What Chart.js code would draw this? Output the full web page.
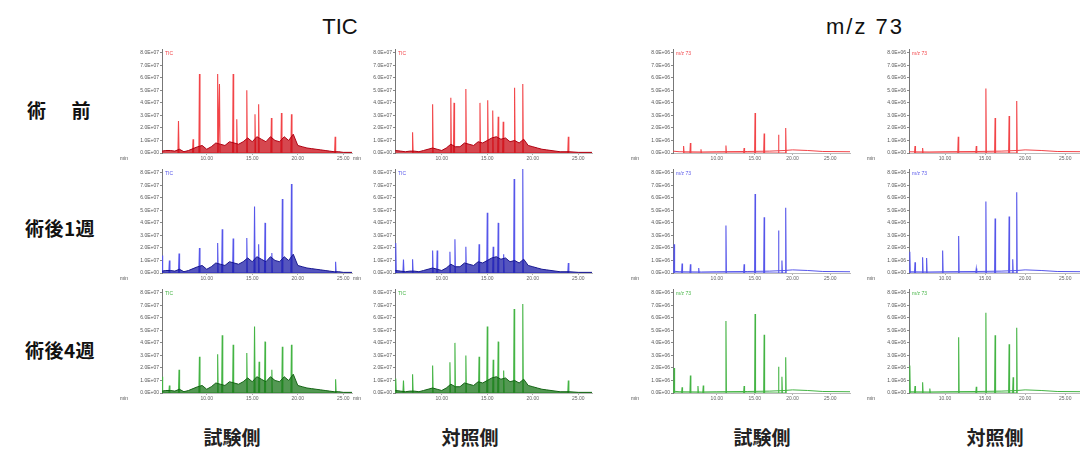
<!DOCTYPE html>
<html lang="ja">
<head>
<meta charset="utf-8">
<title>TIC / m/z 73</title>
<script src="https://cdn.jsdelivr.net/npm/chart.js@4.4.0/dist/chart.umd.min.js"></script>
<style>
body { margin: 0; background: #fff; }
#page { position: relative; width: 1080px; height: 452px; overflow: hidden; font-family: "Liberation Sans", Arial, sans-serif; }
.panel { position: absolute; }
.txt { position: absolute; white-space: nowrap; transform: translateX(-50%); line-height: 1; color: #111; }
.head { font-size: 22px; }
.rowlab { font-family: "Noto Sans CJK JP"; font-weight: bold; font-size: 19px; letter-spacing: 0.5px; }
.side { font-family: "Noto Sans CJK JP"; font-weight: bold; font-size: 19px; color: #222; }
</style>
</head>
<body>
<div id="page">
  <div class="txt head" style="left:340px; top:16px;">TIC</div>
  <div class="txt head" style="left:865px; top:16px; letter-spacing:2px;">m/z 73</div>

  <div class="txt rowlab" style="left:59px; top:100px; word-spacing:20px;">術 前</div>
  <div class="txt rowlab" style="left:60px; top:218px;">術後1週</div>
  <div class="txt rowlab" style="left:60px; top:340px;">術後4週</div>

  <div class="txt side" style="left:232px; top:427px;">試験側</div>
  <div class="txt side" style="left:470px; top:427px;">対照側</div>
  <div class="txt side" style="left:762px; top:427px;">試験側</div>
  <div class="txt side" style="left:995px; top:427px;">対照側</div>
</div>

<script>
// ---- data (retention time in min, intensity: TIC x1E+07, m/z 73 x1E+06) ----
const xTicks = [10, 15, 20, 25];
const yTicks = [0, 1, 2, 3, 4, 5, 6, 7, 8];

// TIC, 試験側
const ticPreTestTimes   = [6.9, 8.5, 9.2, 11.2, 11.4, 12.9, 13.3, 14.4, 15.3, 15.7, 17.1, 18.2, 19.3, 24.1];
const ticPreTestHeights = [2.55, 1.1, 6.3, 6.3, 5.5, 6.3, 2.7, 5.0, 3.1, 3.9, 2.8, 3.2, 3.1, 1.3];
const ticW1TestTimes    = [5.1, 5.9, 6.96, 9.2, 11.2, 11.7, 12.9, 14.4, 15.25, 15.7, 16.4, 17.15, 18.3, 19.3, 24.15];
const ticW1TestHeights  = [1.4, 1.0, 1.55, 2.0, 2.4, 3.5, 2.75, 2.8, 5.3, 2.3, 4.0, 1.6, 5.9, 7.1, 0.9];
const ticW4TestTimes    = [5.1, 5.9, 6.96, 9.2, 11.2, 11.7, 12.9, 14.4, 15.25, 15.75, 16.4, 17.15, 18.3, 19.3, 24.15];
const ticW4TestHeights  = [1.3, 0.6, 1.85, 2.9, 3.1, 4.6, 3.85, 3.2, 5.3, 2.5, 4.1, 1.85, 3.7, 3.85, 1.1];

// TIC, 対照側
const ticPreCtrlTimes   = [6.8, 9.0, 11.0, 11.35, 12.65, 14.2, 15.05, 15.6, 16.2, 16.75, 18.0, 18.9, 23.9];
const ticPreCtrlHeights = [1.66, 3.9, 4.4, 4.0, 5.1, 4.0, 4.2, 3.4, 2.9, 2.5, 5.2, 5.5, 1.3];
const ticW1CtrlTimes    = [4.95, 5.8, 6.8, 9.0, 9.5, 10.9, 11.45, 12.65, 14.1, 15.0, 15.65, 16.2, 16.8, 17.95, 18.9, 23.9];
const ticW1CtrlHeights  = [2.4, 1.07, 1.1, 1.8, 1.8, 1.7, 2.7, 2.1, 2.3, 4.8, 2.1, 4.0, 1.5, 7.5, 8.3, 0.8];
const ticW4CtrlTimes    = [4.95, 5.8, 6.8, 9.0, 10.9, 11.45, 12.65, 14.1, 15.0, 15.65, 16.2, 16.8, 17.95, 18.9, 23.9];
const ticW4CtrlHeights  = [1.15, 1.0, 1.5, 2.2, 2.45, 4.0, 3.0, 2.9, 5.3, 2.65, 4.1, 1.8, 6.7, 7.1, 1.0];

// TIC baselines (time, level)
const ticTestBase = [[5.1,0.15],[5.5,0.2],[6,0.2],[6.5,0.15],[7,0.3],[7.5,0.1],[8,0.2],[8.5,0.35],[9,0.5],[9.5,0.6],
  [10,0.3],[10.5,0.5],[11,0.8],[11.5,0.7],[12,0.6],[12.5,0.9],[13,0.8],[13.5,0.7],[14,0.9],[14.5,1.2],
  [15,0.9],[15.5,1.3],[16,1.1],[16.5,0.9],[17,1.3],[17.5,1.0],[18,0.9],[18.5,1.3],[19,1.0],[19.5,1.5],
  [20,0.6],[20.5,0.5],[21,0.4],[21.5,0.35],[22,0.3],[22.5,0.25],[23,0.2],[23.5,0.15],[24,0.1],[24.5,0.1],[25,0.05],[26,0.05]];
const ticCtrlBase = [[4.9,0.2],[5.5,0.15],[6,0.1],[6.5,0.15],[7,0.15],[7.5,0.1],[8,0.2],[8.5,0.3],[9,0.4],[9.5,0.3],
  [10,0.2],[10.5,0.4],[11,0.7],[11.5,0.5],[12,0.5],[12.5,0.8],[13,0.7],[13.5,0.6],[14,0.9],[14.5,0.8],
  [15,1.0],[15.5,1.2],[16,1.3],[16.5,1.1],[17,1.2],[17.5,0.9],[18,1.0],[18.5,0.8],[19,1.1],[19.5,0.6],
  [20,0.5],[20.5,0.4],[21,0.3],[21.5,0.25],[22,0.2],[23,0.1],[24,0.1],[25,0.05],[26.5,0.05]];

// m/z 73, 試験側
const mzPreTestTimes   = [5.6, 6.5, 7.9, 11.2, 13.6, 15.05, 16.25, 18.15, 19.1];
const mzPreTestHeights = [0.55, 0.8, 0.3, 0.6, 0.4, 3.2, 1.55, 1.45, 2.0];
const mzW1TestTimes    = [4.35, 5.4, 6.5, 7.6, 11.2, 13.6, 15.05, 16.25, 18.15, 18.6, 19.1];
const mzW1TestHeights  = [2.3, 0.75, 0.7, 0.4, 3.8, 0.7, 6.3, 4.45, 3.4, 1.0, 5.2];
const mzW4TestTimes    = [4.35, 5.4, 6.5, 7.5, 8.2, 11.2, 13.6, 15.05, 16.25, 18.15, 18.6, 19.1];
const mzW4TestHeights  = [2.0, 0.45, 1.4, 0.55, 0.6, 5.75, 0.55, 6.3, 4.65, 2.1, 1.3, 2.85];

// m/z 73, 対照側
const mzPreCtrlTimes   = [6.25, 7.2, 11.65, 13.9, 15.1, 16.25, 18.0, 18.95];
const mzPreCtrlHeights = [0.55, 0.4, 1.3, 0.55, 5.15, 2.8, 2.95, 4.15];
const mzW1CtrlTimes    = [5.6, 6.25, 7.2, 7.7, 9.7, 11.7, 13.9, 15.1, 16.25, 18.0, 18.45, 18.95];
const mzW1CtrlHeights  = [1.7, 0.85, 1.25, 1.2, 1.8, 2.95, 0.35, 5.7, 4.35, 4.5, 1.1, 6.45];
const mzW4CtrlTimes    = [5.6, 6.25, 7.2, 8.1, 11.7, 13.9, 15.1, 16.25, 18.0, 18.5, 18.95];
const mzW4CtrlHeights  = [2.2, 0.55, 0.85, 0.35, 4.45, 0.5, 6.4, 4.6, 3.9, 1.25, 5.2];

const mzBase = [[4.2,0.15],[5,0.1],[8,0.08],[10,0.1],[14,0.12],[17,0.15],[19,0.2],[20,0.25],[22,0.2],[24,0.12],[27.6,0.1]];

// ---- layout ----
const cols = [
  { x: 162, w: 190, min: 5.09, max: 25.95 },
  { x: 395, w: 197, min: 4.87, max: 26.5 },
  { x: 673, w: 177, min: 4.2,  max: 27.6 },
  { x: 909, w: 177, min: 5.5,  max: 27.6 }
];
const rowTops = [49, 169, 289];
const plotH = 104, yW = 44, xH = 14, padTop = 6, padRight = 10;

const rowColors = [
  { line: '#f24448', base: 'rgba(200,10,20,0.75)', edge: '#b00010' },
  { line: '#5656ea', base: 'rgba(28,28,168,0.75)', edge: '#181890' },
  { line: '#44b444', base: 'rgba(26,118,26,0.75)', edge: '#146414' }
];

const panels = [
  { col: 0, row: 0, t: ticPreTestTimes, h: ticPreTestHeights, base: ticTestBase, label: 'TIC', exp: 'E+07' },
  { col: 0, row: 1, t: ticW1TestTimes,  h: ticW1TestHeights,  base: ticTestBase, label: 'TIC', exp: 'E+07' },
  { col: 0, row: 2, t: ticW4TestTimes,  h: ticW4TestHeights,  base: ticTestBase, label: 'TIC', exp: 'E+07' },
  { col: 1, row: 0, t: ticPreCtrlTimes, h: ticPreCtrlHeights, base: ticCtrlBase, label: 'TIC', exp: 'E+07' },
  { col: 1, row: 1, t: ticW1CtrlTimes,  h: ticW1CtrlHeights,  base: ticCtrlBase, label: 'TIC', exp: 'E+07' },
  { col: 1, row: 2, t: ticW4CtrlTimes,  h: ticW4CtrlHeights,  base: ticCtrlBase, label: 'TIC', exp: 'E+07' },
  { col: 2, row: 0, t: mzPreTestTimes,  h: mzPreTestHeights,  base: mzBase, label: 'm/z 73', exp: 'E+06' },
  { col: 2, row: 1, t: mzW1TestTimes,   h: mzW1TestHeights,   base: mzBase, label: 'm/z 73', exp: 'E+06' },
  { col: 2, row: 2, t: mzW4TestTimes,   h: mzW4TestHeights,   base: mzBase, label: 'm/z 73', exp: 'E+06' },
  { col: 3, row: 0, t: mzPreCtrlTimes,  h: mzPreCtrlHeights,  base: mzBase, label: 'm/z 73', exp: 'E+06' },
  { col: 3, row: 1, t: mzW1CtrlTimes,   h: mzW1CtrlHeights,   base: mzBase, label: 'm/z 73', exp: 'E+06' },
  { col: 3, row: 2, t: mzW4CtrlTimes,   h: mzW4CtrlHeights,   base: mzBase, label: 'm/z 73', exp: 'E+06' }
];

// each peak becomes a thin spike
function spikes(times, heights) {
  const pts = [];
  times.forEach((t, i) => {
    pts.push({ x: t - 0.06, y: 0 }, { x: t, y: heights[i] }, { x: t + 0.06, y: 0 });
  });
  return pts;
}

// small "TIC" / "m/z 73" tag and the "min" unit
const panelText = {
  id: 'panelText',
  afterDraw(chart, args, opts) {
    const { ctx, chartArea } = chart;
    ctx.save();
    ctx.font = '5px "Liberation Sans"';
    ctx.textBaseline = 'top';
    ctx.fillStyle = opts.color;
    ctx.fillText(opts.label, chartArea.left + 3, chartArea.top + 2);
    ctx.fillStyle = '#555';
    ctx.fillText('min', chartArea.left - 42, chartArea.bottom + 3);
    ctx.restore();
  }
};

const page = document.getElementById('page');

panels.forEach(p => {
  const c = cols[p.col];
  const color = rowColors[p.row];
  const isTic = p.label === 'TIC';
  const canvas = document.createElement('canvas');
  canvas.className = 'panel';
  const cw = yW + c.w + padRight, ch = padTop + plotH + xH;
  canvas.width = cw; canvas.height = ch;
  canvas.style.left = (c.x - yW) + 'px';
  canvas.style.top = (rowTops[p.row] - padTop) + 'px';
  canvas.style.width = cw + 'px'; canvas.style.height = ch + 'px';
  page.appendChild(canvas);

  new Chart(canvas.getContext('2d'), {
    type: 'scatter',
    data: {
      datasets: [
        {
          data: p.base.map(b => ({ x: b[0], y: b[1] })),
          showLine: true, pointRadius: 0, borderWidth: 1,
          borderColor: isTic ? color.edge : color.line,
          backgroundColor: isTic ? color.base : 'rgba(0,0,0,0)',
          fill: isTic ? 'origin' : false, order: 0
        },
        {
          data: spikes(p.t, p.h),
          showLine: true, pointRadius: 0, borderWidth: 1.1,
          borderColor: color.line, fill: false, order: 1
        }
      ]
    },
    options: {
      responsive: false,
      animation: false,
      layout: { padding: { top: padTop, right: padRight, left: 0, bottom: 0 } },
      plugins: {
        legend: { display: false },
        tooltip: { enabled: false },
        panelText: { label: p.label, color: color.line }
      },
      scales: {
        x: {
          type: 'linear', min: c.min, max: c.max,
          afterBuildTicks: s => { s.ticks = xTicks.map(v => ({ value: v })); },
          afterFit: s => { s.height = xH; },
          ticks: { font: { size: 5 }, color: '#666', padding: 1, maxRotation: 0, callback: v => v.toFixed(2) },
          grid: { display: true, drawOnChartArea: false, tickLength: 2, color: '#aaa' },
          border: { display: true, color: '#bbb', width: 1 }
        },
        y: {
          min: 0, max: 8.3,
          afterBuildTicks: s => { s.ticks = yTicks.map(v => ({ value: v })); },
          afterFit: s => { s.width = yW; },
          ticks: { font: { size: 5 }, color: '#555', padding: 1, callback: v => v.toFixed(1) + (v === 0 ? 'E+00' : p.exp) },
          grid: { display: true, drawOnChartArea: false, tickLength: 2, color: '#888' },
          border: { display: true, color: '#777', width: 1 }
        }
      }
    },
    plugins: [panelText]
  });
});
</script>
</body>
</html>
